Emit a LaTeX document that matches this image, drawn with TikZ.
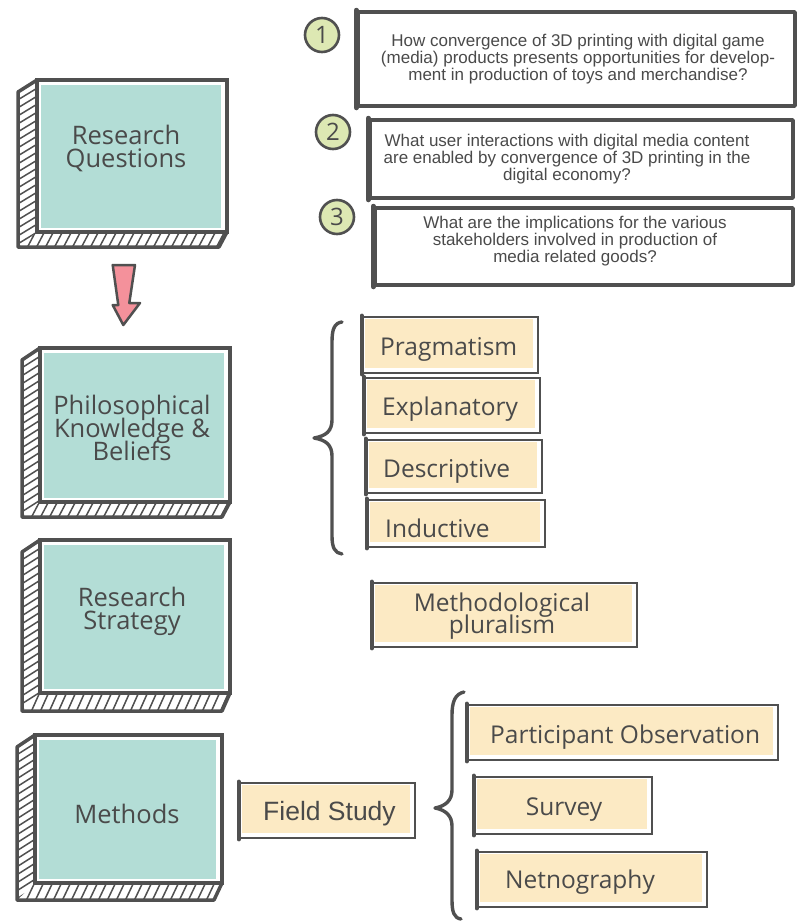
\documentclass[tikz,border=0pt]{standalone}
\usepackage{fontspec}
\setmainfont{Open Sans}
\newfontfamily\arialfont{Liberation Sans}
\usetikzlibrary{fit}

\definecolor{ink}{HTML}{505050}
\definecolor{txt}{HTML}{4A4A4A}
\definecolor{tealfill}{HTML}{B3DDD6}
\definecolor{sand}{HTML}{FCEAC4}
\definecolor{rose}{HTML}{F4919B}
\definecolor{leaf}{HTML}{DDE8B3}

\tikzset{
  hatchline/.style={draw=ink, line width=1.5pt},
  frameline/.style={draw=ink, line width=3.5pt, line join=round, line cap=round},
  tlabel/.style={text=txt, font=\fontsize{25.5}{23}\selectfont, align=center, inner sep=0pt},
  ylabel/.style={text=txt, font=\fontsize{24.5}{21}\selectfont, inner sep=0pt},
  flabel/.style={text=txt, font=\arialfont\fontsize{26.5}{26.5}\selectfont, inner sep=0pt},
  qtext/.style={text=txt, font=\arialfont\fontsize{17}{16.8}\selectfont, align=center, inner sep=0pt},
  qbox/.style={draw=ink, fill=white, line width=3.5pt, line join=round, inner sep=0pt},
  ybox/.style={draw=ink, fill=white, line width=2.4pt, inner sep=0pt,
    path picture={\fill[sand] ([shift={(2pt,-2pt)}]path picture bounding box.north west)
      rectangle ([shift={(-5pt,5pt)}]path picture bounding box.south east);}},
  numc/.style={circle, draw=ink, fill=leaf, line width=2.6pt, minimum size=34pt,
    inner sep=0pt, text=txt, font=\fontsize{24}{24}\selectfont},
  bracepath/.style={draw=ink, line width=3.4pt, line cap=round, line join=round},
  blockarrow/.style={fill=rose, draw=ink, line width=2.5pt, line join=round}
}

% 3D framed box: #1 name, #2 x1, #3 y1, #4 x2, #5 y2 (front face), #6 depth x, #7 depth y
\newcommand\cubebox[7]{%
  \fill[white] (#2,#3) -- ({#2-#6},{#3+12}) -- ({#2-#6},{#5+#7}) -- ({#4-8},{#5+#7}) -- (#4,#5) -- cycle;
  \begin{scope}
    \clip (#2,#3) -- ({#2-#6},{#3+12}) -- ({#2-#6},{#5+#7}) -- (#2,#5) -- cycle;
    \foreach \k in {0,...,28}
      \draw[hatchline] ({#2-#6-2},{#3+13+8*\k}) -- ({#2+2},{#3-1+8*\k});
  \end{scope}
  \begin{scope}
    \clip (#2,#5) -- (#4,#5) -- ({#4-8},{#5+#7}) -- ({#2-#6},{#5+#7}) -- cycle;
    \foreach \k in {0,...,26}
      \draw[hatchline] ({#2-#6-9+9*\k},{#5+#7+1}) -- ({#2-#6+9*\k},{#5-1});
  \end{scope}
  \draw[frameline] (#2,#3) -- ({#2-#6},{#3+12}) -- ({#2-#6},{#5+#7}) -- ({#4-8},{#5+#7}) -- (#4,#5);
  \node[fit={(#2,#3) (#4,#5)}, draw=ink, line width=3.5pt, fill=white, inner sep=0pt] (#1) {};
  \fill[tealfill] ([shift={(6pt,-7pt)}]#1.north west) rectangle ([shift={(-8pt,6pt)}]#1.south east);
}

\begin{document}
\lineskiplimit=-100pt
\begin{tikzpicture}[x=1pt, y=-1pt]
\useasboundingbox (0,0) rectangle (797,921);
\fill[white] (0,0) rectangle (797,921);

% ---- left column: framed stages ----
\cubebox{rq}{37}{80}{227}{232}{19}{15}
\node[tlabel] (rqtext) at (126,148) {Research\\Questions};

\cubebox{pk}{40}{348}{230}{502}{18}{15}
\node[tlabel] (pktext) at (132,428) {Philosophical\\Knowledge \&\\Beliefs};

\cubebox{rs}{40}{540}{230}{693}{18}{18}
\node[tlabel] (rstext) at (132,611) {Research\\Strategy};

\cubebox{me}{35}{735}{222}{883}{18}{17}
\node[tlabel, anchor=base] (metext) at (127,823) {Methods};

% ---- downward block arrow ----
\draw[blockarrow] (112.7,265) -- (135,265) -- (129.3,303) -- (140,303) -- (123.3,325)
  -- (112.7,305) -- (118.3,305) -- cycle;

% ---- research questions ----
\node[qbox, fit={(358,12) (795,106)}] (q1) {};
\node[qtext] (q1text) at (578,59) {How convergence of 3D printing with digital game\\(media) products presents opportunities for develop-\\ment in production of toys and merchandise?};
\node[numc] (n1) at (322,35) {1};

\node[qbox, fit={(370,120) (793,198)}] (q2) {};
\node[qtext] (q2text) at (567,159) {What user interactions with digital media content\\are enabled by convergence of 3D printing in the\\digital economy?};
\node[numc] (n2) at (333,132) {2};

\node[qbox, fit={(375,208) (793,285)}] (q3) {};
\node[qtext] (q3text) at (575,241) {What are the implications for the various\\stakeholders involved in production of\\media related goods?};
\node[numc] (n3) at (337,217) {3};

% ---- philosophical positions ----
\draw[bracepath] (342,322) .. controls (334,323) and (332,330) .. (332,342) -- (332,420)
  .. controls (332,431) and (326,436) .. (314,438)
  .. controls (326,440) and (332,445) .. (332,456) -- (332,536)
  .. controls (332,548) and (335,553) .. (342,554);

\node[ybox, fit={(363,317) (538,373)}] (prag) {};
\node[ylabel, anchor=base west] (pragtext) at (380,355) {Pragmatism};
\node[ybox, fit={(365,378) (540,433)}] (expl) {};
\node[ylabel, anchor=base west] (expltext) at (382,415) {Explanatory};
\node[ybox, fit={(367,440) (542,493)}] (desc) {};
\node[ylabel, anchor=base west] (desctext) at (383,477) {Descriptive};
\node[ybox, fit={(368,500) (545,547)}] (indu) {};
\node[ylabel, anchor=base west] (indutext) at (385,537) {Inductive};

% ---- strategy ----
\node[ybox, fit={(373,583) (637,647)}] (plur) {};
\node[tlabel, font=\fontsize{24.5}{22.5}\selectfont] (plurtext) at (502,616) {Methodological\\pluralism};

% ---- methods ----
\node[ybox, fit={(240,783) (415,838)}] (field) {};
\node[flabel, anchor=base west] (fieldtext) at (263,820) {Field Study};

\draw[bracepath] (464,692) .. controls (455,694) and (452,702) .. (452,715) -- (452,790)
  .. controls (452,800) and (446,806) .. (435,808)
  .. controls (446,810) and (452,816) .. (452,826) -- (452,900)
  .. controls (452,912) and (454,918) .. (461,919);

\node[ybox, fit={(468,705) (778,760)}] (part) {};
\node[ylabel, anchor=base west] (parttext) at (490,743) {Participant Observation};
\node[ybox, fit={(475,777) (652,834)}] (surv) {};
\node[ylabel, anchor=base] (survtext) at (564,815) {Survey};
\node[ybox, fit={(478,852) (707,907)}] (netn) {};
\node[ylabel, anchor=base west] (netntext) at (505,888) {Netnography};

% heavier left strokes of the sketched boxes
\foreach \n in {prag,expl,desc,indu,plur,field,part,surv,netn}
  \draw[draw=ink, line width=4.5pt, line cap=round] (\n.north west) -- (\n.south west);
\foreach \n in {q1,q2,q3}
  \draw[draw=ink, line width=5pt, line cap=round] (\n.north west) -- (\n.south west);
\end{tikzpicture}
\end{document}
